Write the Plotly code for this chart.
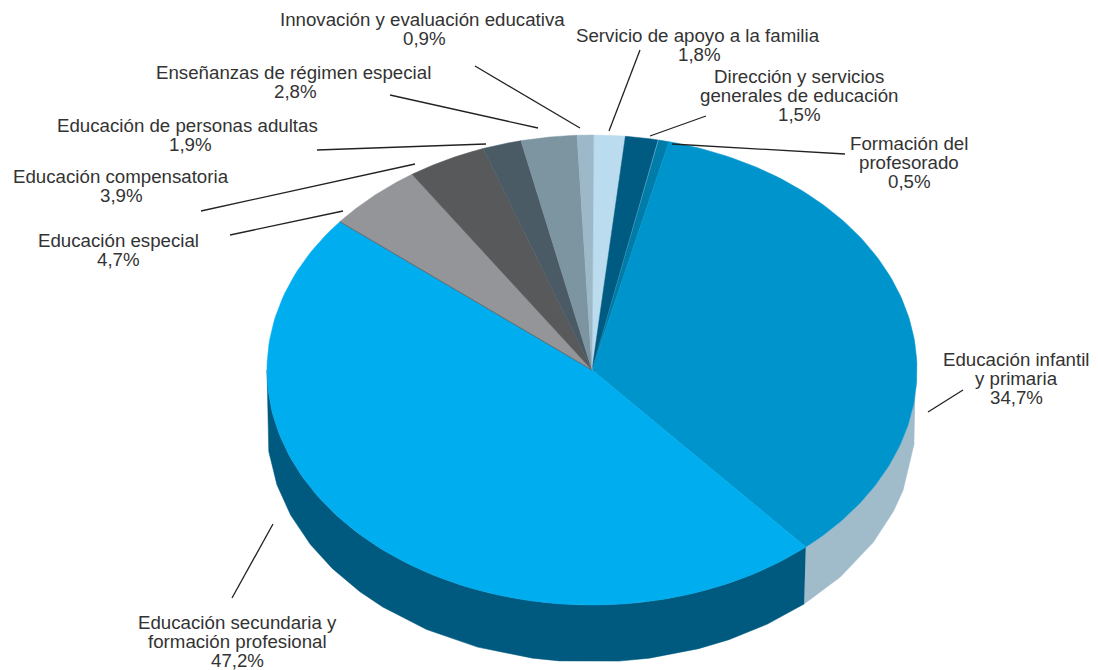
import numpy as np
import plotly.graph_objects as go

# clockwise from 12 o'clock
categories = [
    "Servicio de apoyo a la familia",
    "Dirección y servicios generales de educación",
    "Formación del profesorado",
    "Educación infantil y primaria",
    "Educación secundaria y formación profesional",
    "Educación especial",
    "Educación compensatoria",
    "Educación de personas adultas",
    "Enseñanzas de régimen especial",
    "Innovación y evaluación educativa",
]
values = [1.8, 1.5, 0.5, 34.7, 47.2, 4.7, 3.9, 1.9, 2.8, 0.9]
colors = ["#bbdcee", "#005b82", "#007ca8", "#0094cd", "#00adef",
          "#939598", "#58595b", "#4b5b65", "#7d94a1", "#9db8c8"]

# text lines of each label: (x centre, y centre, text)
label_lines = [
    (422, 19, "Innovación y evaluación educativa"), (424, 38, "0,9%"),
    (698, 35, "Servicio de apoyo a la familia"), (699, 54, "1,8%"),
    (799, 76, "Dirección y servicios"), (799, 95, "generales de educación"), (799, 114, "1,5%"),
    (909, 143, "Formación del"), (909, 162, "profesorado"), (909, 181, "0,5%"),
    (1016, 359, "Educación infantil"), (1016, 378, "y primaria"), (1016, 397, "34,7%"),
    (237, 622, "Educación secundaria y"), (237, 641, "formación profesional"), (237, 660, "47,2%"),
    (118, 240, "Educación especial"), (118, 259, "4,7%"),
    (121, 176, "Educación compensatoria"), (121, 195, "3,9%"),
    (187, 125, "Educación de personas adultas"), (190, 144, "1,9%"),
    (293, 72, "Enseñanzas de régimen especial"), (295, 91, "2,8%"),
]

leaders = [
    (640, 50, 609, 131), (706, 116, 650, 136), (845, 154, 672, 144),
    (963, 390, 928, 412), (273, 524, 232, 598), (230, 235, 343, 211),
    (201, 211, 415, 164), (317, 150, 486, 144), (390, 95, 538, 128),
    (475, 66, 580, 128),
]

CX, CY, RX, RY = 592, 370, 325, 235
DEPTH = 57
SIDE_LIGHT = "#a0bbca"
SIDE_DARK = "#005a80"
PAGE_MARGIN = 8  # the page body offsets the figure by this much

# the original's tilt squeezes the slices a little near 12 o'clock
TILT_IN = [0, 6.5, 11.9, 13.7, 309, 325.8, 339.8, 346.7, 356.8, 360]
TILT_OUT = [0.3, 5.8, 11.7, 13.7, 309.3, 326.4, 340.4, 347.4, 357.4, 360.3]


def top_arc(a0, a1, n=120):
    t = np.radians(np.linspace(a0, a1, n))
    return CX + RX * np.sin(t), CY - RY * np.cos(t)


def rim(angles):
    t = np.radians(np.array(angles))
    return CX - 1 + 324 * np.sin(t), CY + DEPTH - RY * np.cos(t)


shares = np.array(values) / sum(values) * 360
edges = np.interp(np.concatenate([[0], np.cumsum(shares)]), TILT_IN, TILT_OUT)
split = edges[4]  # infantil / secundaria boundary

fig = go.Figure()


def add_poly(x, y, color):
    fig.add_trace(go.Scatter(x=x, y=y, mode="lines", fill="toself", fillcolor=color,
                             line=dict(color=color, width=0.5), hoverinfo="skip",
                             showlegend=False))


# side wall, faceted like the original
light_rim = [94, 105.6, 111, 119.4, 129.7, split]
x0, y0 = top_arc(96, split)
x1, y1 = rim(light_rim)
add_poly(np.concatenate([x0, x1[::-1]]), np.concatenate([y0, y1[::-1]]), SIDE_LIGHT)

dark_rim = [split, 147, 154.8, 160.6, 169.6, 175, 185.6, 190.4, 200.5, 210.5, 220, 225.5, 233, 240, 248, 255.8, 264]
x0, y0 = top_arc(split, 270)
x1, y1 = rim(dark_rim)
add_poly(np.concatenate([x0, x1[::-1]]), np.concatenate([y0, y1[::-1]]), SIDE_DARK)

# top of the pie
for i, cat in enumerate(categories):
    ax, ay = top_arc(edges[i], edges[i + 1])
    add_poly(np.concatenate([[CX], ax, [CX]]), np.concatenate([[CY], ay, [CY]]), colors[i])

# hairline between secundaria and especial
ax, ay = top_arc(edges[5], edges[5], 1)
fig.add_trace(go.Scatter(x=[CX, ax[0]], y=[CY, ay[0]], mode="lines", hoverinfo="skip",
                         line=dict(color="#4a4a4c", width=0.6), showlegend=False))

for x, y, txt in label_lines:
    fig.add_annotation(x=x, y=y, text=txt, showarrow=False, xanchor="center", yanchor="middle",
                       font=dict(family="Liberation Sans", size=18.7, color="#333333"))

for xa, ya, xb, yb in leaders:
    fig.add_shape(type="line", x0=xa, y0=ya, x1=xb, y1=yb, line=dict(color="#222222", width=1.3))

fig.update_layout(
    width=1098 - PAGE_MARGIN, height=670 - PAGE_MARGIN, margin=dict(l=0, r=0, t=0, b=0),
    paper_bgcolor="white", plot_bgcolor="white", showlegend=False,
    xaxis=dict(range=[PAGE_MARGIN, 1098], visible=False),
    yaxis=dict(range=[670, PAGE_MARGIN], visible=False),
)
fig.write_html("out.html")
